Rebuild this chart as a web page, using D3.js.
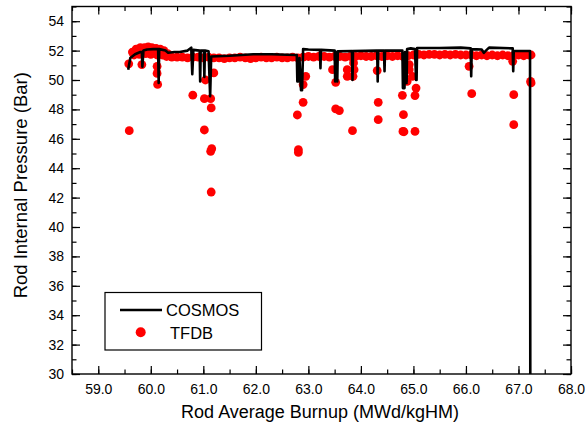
<!DOCTYPE html>
<html><head><meta charset="utf-8">
<script src="https://cdn.jsdelivr.net/npm/d3@7"></script>
<style>body{margin:0;background:#fff}svg{display:block;font-family:"Liberation Sans",Arial,sans-serif}</style>
</head><body><svg id="c" width="585" height="427"></svg>
<script>
// ---- data ----
const xDomain = [58.5, 68.0];
const yDomain = [30, 55];
const xTickLabels = ["59.0","60.0","61.0","62.0","63.0","64.0","65.0","66.0","67.0","68.0"];
const yTickLabels = ["30","32","34","36","38","40","42","44","46","48","50","52","54"];
const seriesNames = ["COSMOS", "TFDB"];

// COSMOS calculated line
const cosmosX = [59.57,59.61,59.70,59.80,59.83,59.84,59.86,59.93,60.05,60.14,60.15,60.16,60.28,60.33,60.45,60.55,60.70,60.77,60.79,60.81,60.93,60.94,60.95,61.01,61.02,61.03,61.10,61.13,61.15,61.50,61.95,62.30,62.75,62.78,62.79,62.81,62.83,62.86,62.88,62.90,63.00,63.22,63.23,63.24,63.50,63.51,63.53,63.55,63.56,63.83,63.84,63.85,64.31,64.32,64.33,64.44,64.45,64.46,64.79,64.80,64.83,64.84,64.87,64.88,64.95,65.03,65.05,65.06,65.07,65.50,65.90,66.09,66.10,66.11,66.30,66.34,66.38,66.44,66.89,66.90,66.91,67.22,67.225];
const cosmosY = [50.70,51.50,51.75,51.90,51.90,50.90,52.00,52.07,52.10,52.10,49.80,52.10,52.00,51.85,51.90,51.90,52.00,52.20,50.40,52.05,52.00,49.90,52.00,52.00,50.20,52.00,51.95,48.90,51.60,51.65,51.75,51.75,51.70,51.70,49.90,49.90,51.50,49.30,49.30,52.10,52.07,52.05,50.80,52.05,52.00,49.90,51.90,49.90,51.95,51.97,50.00,51.97,52.00,49.90,52.00,52.00,50.60,52.00,52.00,49.45,49.45,51.90,49.80,52.10,52.15,52.10,50.00,50.00,52.18,52.18,52.20,52.15,50.25,52.10,52.07,51.85,52.00,52.20,52.15,50.60,51.97,51.97,30.00];

// TFDB measured points
const tfdbX = [
 59.65,59.72,59.80,59.88,59.95,60.02,60.10,60.18,60.25,60.32,
 59.68,59.78,59.90,60.00,60.12,
 60.22,60.30,60.40,60.50,60.60,60.70,60.80,60.90,61.00,61.10,
 61.20,61.30,61.40,61.50,61.60,61.70,61.80,61.90,62.00,62.10,62.20,62.30,62.40,62.50,62.60,62.70,62.80,
 62.90,63.00,63.10,63.20,63.30,63.40,63.50,63.60,63.70,63.80,63.90,64.00,64.10,64.20,64.30,64.40,64.50,64.60,64.70,64.80,64.90,65.00,
 65.10,65.20,65.30,65.40,65.50,65.60,65.70,65.80,65.90,66.00,66.10,66.20,66.30,66.40,66.50,66.60,66.70,66.80,66.90,67.00,67.10,67.20,
 59.58,59.59,59.83,60.12,60.12,60.13,60.80,61.04,61.20,61.02,61.14,61.15,61.02,61.14,61.16,61.15,
 62.79,62.81,62.81,62.90,62.90,62.95,63.46,63.52,63.52,63.59,63.74,63.74,63.84,63.86,63.87,63.85,
 64.31,64.33,64.33,64.79,64.81,64.80,64.82,64.92,64.92,64.98,65.05,65.03,65.03,64.88,64.88,
 66.06,66.11,66.91,66.91,66.89,67.23,67.24,67.24];
const tfdbY = [
 51.90,52.10,52.20,52.20,52.25,52.20,52.15,52.10,52.00,51.80,
 51.70,51.75,51.80,51.75,51.70,
 51.70,51.60,51.55,51.55,51.55,51.50,51.55,51.55,51.50,51.55,
 51.50,51.50,51.45,51.50,51.50,51.55,51.50,51.45,51.50,51.55,51.50,51.50,51.55,51.50,51.50,51.55,51.50,
 51.55,51.60,51.55,51.60,51.60,51.55,51.60,51.60,51.55,51.60,51.60,51.65,51.60,51.60,51.65,51.60,51.65,51.60,51.65,51.60,51.65,51.70,
 51.75,51.70,51.75,51.75,51.70,51.75,51.70,51.75,51.70,51.70,51.70,51.65,51.70,51.65,51.70,51.65,51.70,51.65,51.65,51.70,51.65,51.70,
 51.10,46.55,51.05,50.93,50.45,49.70,48.97,50.00,50.48,48.73,48.73,48.10,46.60,45.15,45.33,42.38,
 47.62,45.26,45.07,48.48,49.69,50.25,50.70,49.84,48.03,47.92,50.70,50.25,46.55,51.16,50.70,50.25,
 50.64,48.48,47.30,48.96,47.64,46.50,46.48,51.05,50.70,50.25,49.45,48.94,46.50,50.90,49.90,
 50.93,49.07,49.00,46.96,51.27,49.90,49.80,51.70];

// ---- layout ----
const L = 72, R = 571, T = 6.5, B = 374;
const svg = d3.select("#c");
const x = d3.scaleLinear().domain(xDomain).range([L, R]);
const y = d3.scaleLinear().domain(yDomain).range([B, T]);

const plot = svg.append("g");
plot.append("defs").append("clipPath").attr("id","clip")
  .append("rect").attr("x",L).attr("y",T).attr("width",R-L).attr("height",B-T);

// points
plot.append("g").attr("clip-path","url(#clip)").selectAll("circle")
  .data(tfdbX.map((v,i)=>[v,tfdbY[i]])).join("circle")
  .attr("cx",d=>x(d[0])).attr("cy",d=>y(d[1])).attr("r",4.4).attr("fill","#ff0000");

// line
plot.append("path").attr("clip-path","url(#clip)")
  .datum(cosmosX.map((v,i)=>[v,cosmosY[i]]))
  .attr("d", d3.line().x(d=>x(d[0])).y(d=>y(d[1])))
  .attr("fill","none").attr("stroke","#000").attr("stroke-width",2.6).attr("stroke-linejoin","round");

// axes
const xMaj = d3.range(59, 68.01, 1), xMin = d3.range(58.5, 68.01, 0.5);
const yMaj = d3.range(30, 54.01, 2), yMin = d3.range(30, 55.01, 1);
const fmtX = (d)=> xTickLabels[Math.round(d-59)];
const fmtY = (d)=> yTickLabels[Math.round((d-30)/2)];

function axisG(axis, tr){ return svg.append("g").attr("transform",tr).call(axis); }
function style(g){ g.select(".domain").remove(); g.selectAll("line").attr("stroke","#000").attr("stroke-width",1.2); g.selectAll("text").attr("fill","#000").attr("font-size","14px").attr("font-family","'Liberation Sans',Arial,sans-serif"); }

// bottom
let g = axisG(d3.axisTop(x).tickValues(xMin).tickSize(4.5).tickFormat(""), `translate(0,${B})`); style(g);
g = axisG(d3.axisTop(x).tickValues(xMaj).tickSize(8).tickFormat(""), `translate(0,${B})`); style(g);
g = axisG(d3.axisBottom(x).tickValues(xMaj).tickSize(0).tickPadding(10).tickFormat(fmtX), `translate(0,${B})`); style(g);
// top
g = axisG(d3.axisBottom(x).tickValues(xMin).tickSize(4.5).tickFormat(""), `translate(0,${T})`); style(g);
g = axisG(d3.axisBottom(x).tickValues(xMaj).tickSize(8).tickFormat(""), `translate(0,${T})`); style(g);
// left
g = axisG(d3.axisRight(y).tickValues(yMin).tickSize(4.5).tickFormat(""), `translate(${L},0)`); style(g);
g = axisG(d3.axisRight(y).tickValues(yMaj).tickSize(8).tickFormat(""), `translate(${L},0)`); style(g);
g = axisG(d3.axisLeft(y).tickValues(yMaj).tickSize(0).tickPadding(8).tickFormat(fmtY), `translate(${L},0)`); style(g);
// right
g = axisG(d3.axisLeft(y).tickValues(yMin).tickSize(4.5).tickFormat(""), `translate(${R},0)`); style(g);
g = axisG(d3.axisLeft(y).tickValues(yMaj).tickSize(8).tickFormat(""), `translate(${R},0)`); style(g);

// frame
svg.append("rect").attr("x",L).attr("y",T).attr("width",R-L).attr("height",B-T)
  .attr("fill","none").attr("stroke","#000").attr("stroke-width",1.4);

// titles
svg.append("text").attr("x",320).attr("y",418).attr("text-anchor","middle")
  .attr("font-size","18px").text("Rod Average Burnup (MWd/kgHM)");
svg.append("text").attr("transform",`translate(27,${(T+B)/2 - 5}) rotate(-90)`).attr("text-anchor","middle")
  .attr("font-size","18.5px").text("Rod Internal Pressure (Bar)");

// legend
const lg = svg.append("g");
lg.append("rect").attr("x",105).attr("y",292.5).attr("width",156.5).attr("height",57.5)
  .attr("fill","#fff").attr("stroke","#000").attr("stroke-width",1.2);
lg.append("line").attr("x1",120).attr("x2",162).attr("y1",310).attr("y2",310).attr("stroke","#000").attr("stroke-width",2.6);
lg.append("text").attr("x",166).attr("y",316).attr("font-size","16.5px").text(seriesNames[0]);
lg.append("circle").attr("cx",140.7).attr("cy",332.3).attr("r",5).attr("fill","#ff0000");
lg.append("text").attr("x",170).attr("y",339).attr("font-size","16.5px").text(seriesNames[1]);
</script></body></html>
